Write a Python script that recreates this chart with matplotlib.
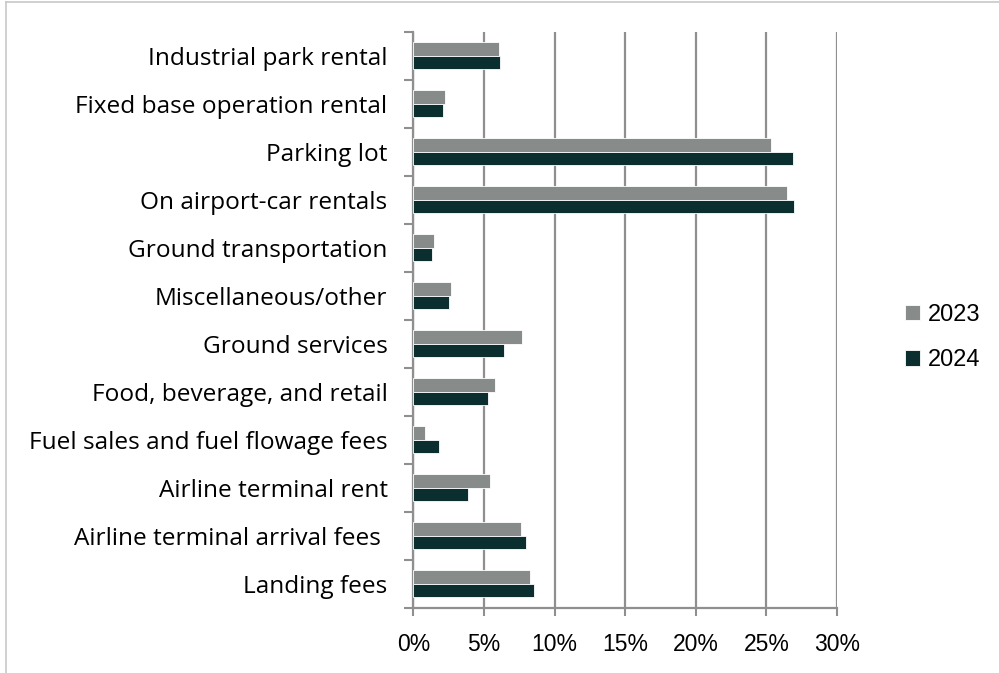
import matplotlib.pyplot as plt
from matplotlib.lines import Line2D

# categories listed top to bottom, values in percent
categories = [
    "Industrial park rental",
    "Fixed base operation rental",
    "Parking lot",
    "On airport-car rentals",
    "Ground transportation",
    "Miscellaneous/other",
    "Ground services",
    "Food, beverage, and retail",
    "Fuel sales and fuel flowage fees",
    "Airline terminal rent",
    "Airline terminal arrival fees ",
    "Landing fees",
]
share_2023 = [6.07, 2.21, 25.33, 26.44, 1.44, 2.69, 7.68, 5.81, 0.85, 5.41, 7.60, 8.26]
share_2024 = [6.14, 2.07, 26.87, 26.96, 1.32, 2.50, 6.40, 5.29, 1.80, 3.90, 8.00, 8.57]
x_ticks = [0, 5, 10, 15, 20, 25, 30]

gray = "#878C8B"
dark = "#0B2F2F"
axis_gray = "#8F8F8F"

fig = plt.figure(figsize=(9.99, 6.73), dpi=100)
W, H = 999, 673
ax = fig.add_axes([413.3 / W, 1 - 607.7 / H, (837 - 413.3) / W, (607.7 - 31.7) / H])

h = 0.285
pos = list(range(len(categories)))
ax.barh([p - h / 2 for p in pos], share_2023, height=h, color=gray,
        edgecolor="white", linewidth=0.6, label="2023", zorder=3)
ax.barh([p + h / 2 for p in pos], share_2024, height=h, color=dark,
        edgecolor="white", linewidth=0.6, label="2024", zorder=3)

ax.set_ylim(len(categories) - 0.5, -0.5)
ax.set_xlim(0, 30)

# category labels at centres, tick marks at boundaries
ax.set_yticks(pos)
ax.set_yticklabels(categories, family="Open Sans", fontsize=17.6)
ax.tick_params(axis="y", which="major", length=0, pad=18.5)
ax.set_yticks([p - 0.5 for p in range(len(categories) + 1)], minor=True)
ax.tick_params(axis="y", which="minor", length=6.5, width=1.5, color=axis_gray, direction="out")

ax.set_xticks(x_ticks)
ax.set_xticklabels([f"{v}%" for v in x_ticks], family="Liberation Sans", fontsize=16.5)
ax.tick_params(axis="x", length=6, width=1.5, color=axis_gray, pad=12)

ax.grid(axis="x", color=axis_gray, linewidth=1.6, zorder=0)
ax.set_axisbelow(True)
for side in ["top", "right"]:
    ax.spines[side].set_visible(False)
for side in ["left", "bottom"]:
    ax.spines[side].set_color(axis_gray)
    ax.spines[side].set_linewidth(1.6)

leg = fig.legend(loc="center left", bbox_to_anchor=(905 / W, 1 - 337.5 / H),
                 frameon=False, prop={"family": "Liberation Sans", "size": 17},
                 handlelength=0.62, handleheight=0.62, handletextpad=0.35,
                 labelspacing=1.0, borderpad=0, borderaxespad=0)

# chart area border (partly cropped in the original)
fig.add_artist(Line2D([6 / W, 6 / W], [0, 1 - 2 / H], color="#C8C8C8", linewidth=1.2))
fig.add_artist(Line2D([6 / W, 1], [1 - 2 / H, 1 - 2 / H], color="#C8C8C8", linewidth=1.2))

fig.savefig("out.png", dpi=100)
